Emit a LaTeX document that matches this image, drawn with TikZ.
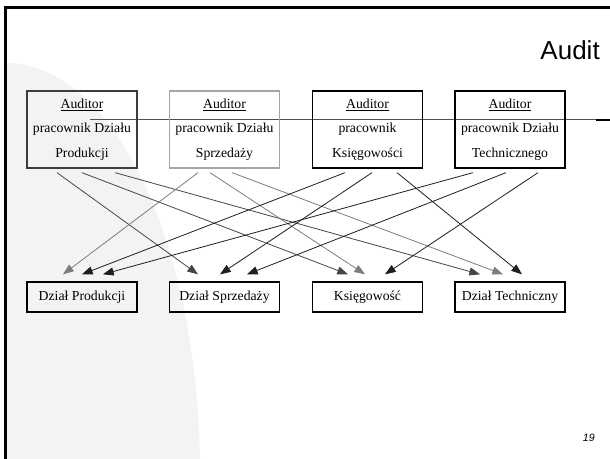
\documentclass[tikz,border=0pt]{standalone}
\usepackage{fontspec}
\setmainfont{Liberation Serif}
\newfontfamily\sansfont{Liberation Sans}
\usetikzlibrary{arrows.meta,calc}
\definecolor{bgarc}{RGB}{243,243,243}
\definecolor{boxA}{RGB}{60,60,60}
\definecolor{boxB}{RGB}{165,165,165}
\definecolor{arrA}{RGB}{70,70,70}
\definecolor{arrB}{RGB}{125,125,125}
\definecolor{arrC}{RGB}{30,30,30}
\definecolor{hline}{RGB}{80,80,80}
\begin{document}
\begin{tikzpicture}[x=0.75pt,y=-0.75pt,
  topbox/.style={draw, line width=1pt, minimum width=82.5pt, minimum height=57.75pt, inner sep=0pt, align=center, font=\fontsize{10.3}{18.4}\selectfont},
  botbox/.style={draw, line width=1pt, minimum width=82.5pt, minimum height=22.5pt, inner sep=0pt, font=\fontsize{10.3}{12}\selectfont},
  arr/.style={-{Triangle[length=8pt,width=6pt]}, line width=0.6pt}]
\useasboundingbox (0,0) rectangle (610,459);
\fill[white] (0,0) rectangle (610,459);
\fill[bgarc] (5,63) .. controls (110,63) and (195,230) .. (200,459) -- (5,459) -- cycle;
\draw[line width=1.9pt] (5.5,459) -- (5.5,7.5) -- (610,7.5);

\node[font=\sansfont\fontsize{19.5}{20}\selectfont, anchor=base east, inner sep=0pt] (title) at (600,60) {Audit};
\node[font=\sansfont\itshape\fontsize{8}{9}\selectfont, anchor=base east, inner sep=0pt] (pg) at (595,441) {19};

\draw[hline, line width=0.7pt] (90,119) -- (596,119);
\draw[black, line width=0.9pt] (596,120) -- (610,120);

\node[topbox, draw=boxA] (t1) at (82,129.5) {\underline{Auditor}\\pracownik Działu\\Produkcji};
\node[topbox, draw=boxB] (t2) at (224.5,129.5) {\underline{Auditor}\\pracownik Działu\\Sprzedaży};
\node[topbox] (t3) at (367.5,129.5) {\underline{Auditor}\\pracownik\\Księgowości};
\node[topbox] (t4) at (510,129.5) {\underline{Auditor}\\pracownik Działu\\Technicznego};

\node[botbox] (b1) at (82,297) {Dział Produkcji};
\node[botbox] (b2) at (224.5,297) {Dział Sprzedaży};
\node[botbox] (b3) at (367.5,297) {Księgowość};
\node[botbox] (b4) at (510,297) {Dział Techniczny};

\draw[arr, arrA] ($(t1.south)+(-25,4)$) -- ($(b2.north)+(-26.5,-7)$);
\draw[arr, arrA] ($(t1.south)+(0,4)$) -- ($(b3.north)+(-19.5,-7)$);
\draw[arr, arrA] ($(t1.south)+(33,4)$) -- ($(b4.north)+(-30,-7)$);

\draw[arr, arrB] ($(t2.south)+(-26.5,4)$) -- ($(b1.north)+(-19,-7)$);
\draw[arr, arrB] ($(t2.south)+(-14.5,4)$) -- ($(b3.north)+(-2.5,-7)$);
\draw[arr, arrB] ($(t2.south)+(7.5,4)$) -- ($(b4.north)+(-7,-7)$);

\draw[arr, arrC] ($(t3.south)+(-22.5,4)$) -- ($(b1.north)+(0,-7)$);
\draw[arr, arrC] ($(t3.south)+(4.5,4)$) -- ($(b2.north)+(-4.5,-7)$);
\draw[arr, arrC] ($(t3.south)+(29.5,4)$) -- ($(b4.north)+(12,-7)$);

\draw[arr, arrC] ($(t4.south)+(-37,4)$) -- ($(b1.north)+(21,-7)$);
\draw[arr, arrC] ($(t4.south)+(-4,4)$) -- ($(b2.north)+(22.5,-7)$);
\draw[arr, arrC] ($(t4.south)+(28,4)$) -- ($(b3.north)+(17.5,-7)$);
\end{tikzpicture}
\end{document}
